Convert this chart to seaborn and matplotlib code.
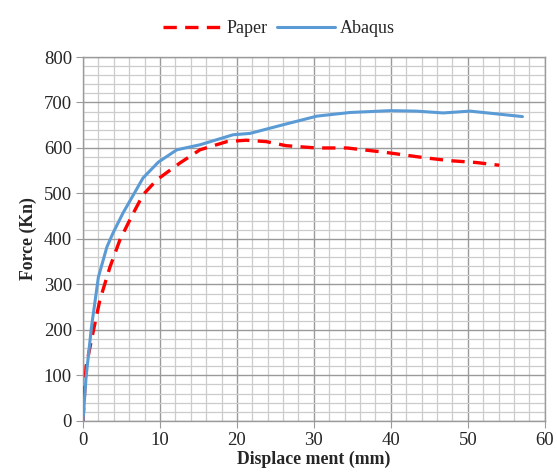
import matplotlib
matplotlib.use("Agg")
import matplotlib.pyplot as plt
from matplotlib.ticker import MultipleLocator
import seaborn as sns
import pandas as pd

# Data
paper_x = [0.0, 0.4, 1.1, 2.2, 3.5, 4.8, 6.3, 7.8, 9.6, 12.6, 15.2, 18.7, 21.2, 23.8, 26.4, 30.3, 34.3, 39.0, 41.6, 44.6, 47.7, 51.1, 54.1]
paper_y = [0, 119, 178, 266, 338, 398, 449, 497, 530, 567, 596, 614, 617, 614, 605, 600, 600, 591, 585, 578, 572, 568, 562]

abaqus_x = [0.0, 0.4, 1.1, 2.0, 3.1, 3.9, 5.2, 7.8, 9.8, 12.2, 15.2, 19.5, 21.7, 26.0, 30.4, 34.7, 39.9, 43.3, 46.8, 50.3, 53.7, 57.1]
abaqus_y = [0, 96, 206, 316, 382, 413, 457, 534, 569, 596, 607, 629, 632, 651, 670, 678, 682, 681, 677, 681, 675, 669]

x_ticks = [0, 10, 20, 30, 40, 50, 60]
y_ticks = [0, 100, 200, 300, 400, 500, 600, 700, 800]

sns.set_style("white")
plt.rcParams['font.family'] = ['Liberation Serif', 'DejaVu Serif']

fig = plt.figure(figsize=(5.57, 4.75), dpi=100)
ax = fig.add_axes([0.149, 0.114, 0.829, 0.766])

df_p = pd.DataFrame({"x": paper_x, "y": paper_y})
df_a = pd.DataFrame({"x": abaqus_x, "y": abaqus_y})
sns.lineplot(data=df_p, x="x", y="y", ax=ax, color="#ff0000", linestyle=(0, (4, 2.5)),
             linewidth=2.4, label="Paper", sort=False, estimator=None, zorder=3)
sns.lineplot(data=df_a, x="x", y="y", ax=ax, color="#5b9bd5", linewidth=2.2,
             label="Abaqus", sort=False, estimator=None, zorder=4)

ax.set_xlim(0, 60)
ax.set_ylim(0, 800)
ax.set_xticks(x_ticks)
ax.set_yticks(y_ticks)
ax.xaxis.set_minor_locator(MultipleLocator(2))
ax.yaxis.set_minor_locator(MultipleLocator(20))
ax.grid(which="major", color="#9a9a9a", linewidth=1.0)
ax.grid(which="minor", color="#cccccc", linewidth=0.9)
ax.set_axisbelow(True)
for s in ax.spines.values():
    s.set_color("#9a9a9a")
    s.set_linewidth(1.0)
ax.tick_params(which="major", direction="out", length=5, color="#9a9a9a",
               labelsize=13.5, pad=3, left=True, bottom=True)
ax.tick_params(which="minor", length=0)

ax.set_xlabel("Displace ment (mm)", fontsize=12.8, fontweight="bold", labelpad=1)
ax.set_ylabel("Force (Kn)", fontsize=12.8, fontweight="bold", labelpad=5)

ax.legend(loc="lower center", bbox_to_anchor=(0.425, 1.01), ncol=2, frameon=False,
          fontsize=13, handlelength=3.2, columnspacing=0.5, handletextpad=0.3)

fig.savefig("out.png", dpi=100)
